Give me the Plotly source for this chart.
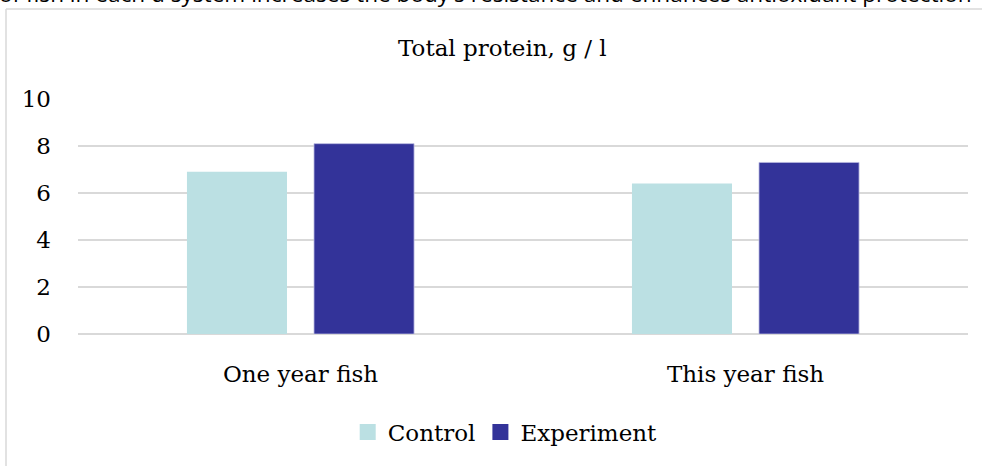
import plotly.graph_objects as go

categories = ["One year fish", "This year fish"]
control = [6.9, 6.4]
experiment = [8.1, 7.3]
y_ticks = [0, 2, 4, 6, 8, 10]
title_text = "Total protein, g / l"
top_text = "of fish in each d system increases the body's resistance and enhances antioxidant protection"
series_names = ["Control", "Experiment"]
series_colors = ["#BBE0E3", "#333399"]

FONT = "DejaVu Serif, serif"
FS = 23

fig = go.Figure()
fig.add_trace(go.Bar(name=series_names[0], x=categories, y=control, showlegend=False,
                     marker=dict(color=series_colors[0], line=dict(width=0))))
fig.add_trace(go.Bar(name=series_names[1], x=categories, y=experiment, showlegend=False,
                     marker=dict(color=series_colors[1], line=dict(width=0.8, color="#B8B8E0"))))
# legend entries with larger square swatches
for nm, col in zip(series_names, series_colors):
    fig.add_trace(go.Scatter(name=nm, x=[None], y=[None], mode="markers",
                             marker=dict(symbol="square", size=17, color=col),
                             showlegend=True, hoverinfo="skip"))

fig.update_layout(
    width=982, height=466,
    margin=dict(l=78, r=14, t=99, b=132),
    paper_bgcolor="white", plot_bgcolor="white",
    barmode="group", bargap=0.429, bargroupgap=0.2126,
    font=dict(family=FONT, size=FS, color="#000000"),
    showlegend=True,
    legend=dict(orientation="h", x=0.48, xanchor="center", y=-0.417, yanchor="middle",
                font=dict(family=FONT, size=FS, color="#000000"),
                traceorder="normal", itemwidth=30),
    xaxis=dict(showgrid=False, showline=False, ticks="", tickfont=dict(size=FS),
               ticklabelstandoff=24),
    yaxis=dict(range=[0, 10], tickvals=y_ticks, showgrid=True, gridcolor="#D9D9D9",
               gridwidth=1.5, zeroline=True, zerolinecolor="#D9D9D9", zerolinewidth=1.5,
               showline=False, ticks="", tickfont=dict(size=FS), ticklabelstandoff=26),
    shapes=[
        dict(type="line", xref="paper", yref="paper",
             x0=-72/890, x1=2.0, y0=(334-9)/235, y1=(334-9)/235,
             line=dict(color="#D9D9D9", width=1.5), layer="below"),
        dict(type="line", xref="paper", yref="paper",
             x0=-72/890, x1=-72/890, y0=-1.0, y1=(334-9)/235,
             line=dict(color="#D9D9D9", width=1.5), layer="below"),
    ],
    annotations=[
        dict(text=title_text, xref="paper", yref="paper", x=(502-78)/890, y=(334-48)/235,
             xanchor="center", yanchor="middle", showarrow=False,
             font=dict(family=FONT, size=FS, color="#000000")),
        dict(text=top_text, xref="paper", yref="paper", x=(-3-78)/890, y=(334+6)/235,
             xanchor="left", yanchor="middle", showarrow=False,
             font=dict(family="Open Sans, DejaVu Sans, sans-serif", size=22.6, color="#000000")),
    ],
)

fig.write_html("out.html", config={"displayModeBar": False},
               post_script="document.body.style.margin='0';document.body.style.overflow='hidden';")
